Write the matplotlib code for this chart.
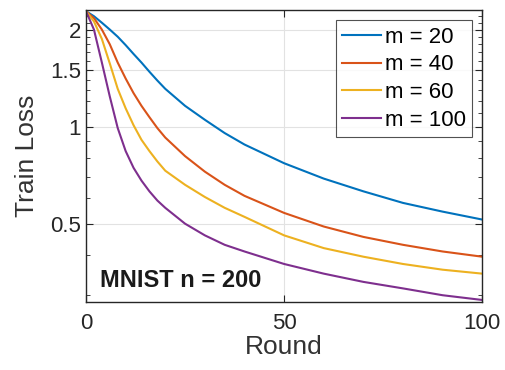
import numpy as np
import matplotlib
matplotlib.use('Agg')
import matplotlib.pyplot as plt
from matplotlib.ticker import FixedLocator, NullFormatter

plt.rcParams['font.family'] = ['Liberation Sans', 'DejaVu Sans']

# values (log-scale y)
rounds = [0, 2, 4, 6, 8, 10, 12, 14, 16, 18, 20, 25, 30, 35, 40, 50, 60, 70, 80, 90, 100]
loss_m20 = [2.28, 2.2, 2.1, 2.0, 1.9, 1.79, 1.68, 1.58, 1.48, 1.39, 1.31, 1.16, 1.05, 0.955, 0.88,
            0.77, 0.69, 0.63, 0.58, 0.545, 0.515]
loss_m40 = [2.28, 2.17, 2.0, 1.80, 1.58, 1.41, 1.27, 1.16, 1.07, 0.99, 0.925, 0.81, 0.725, 0.66, 0.61,
            0.54, 0.49, 0.455, 0.43, 0.41, 0.395]
loss_m60 = [2.28, 2.12, 1.87, 1.57, 1.31, 1.14, 1.01, 0.91, 0.84, 0.78, 0.73, 0.66, 0.605, 0.56, 0.525,
            0.46, 0.42, 0.395, 0.375, 0.36, 0.35]
loss_m100 = [2.28, 2.0, 1.58, 1.24, 0.99, 0.84, 0.745, 0.68, 0.63, 0.59, 0.56, 0.50, 0.46, 0.43, 0.41,
             0.375, 0.35, 0.33, 0.315, 0.30, 0.29]
labels = ['m = 20', 'm = 40', 'm = 60', 'm = 100']
colors = ['#0072BD', '#D95319', '#EDB120', '#7E2F8E']

xticks = [0, 50, 100]
yticks = [0.5, 1, 1.5, 2]
ytick_labels = ['0.5', '1', '1.5', '2']
yminor = [0.3, 0.4, 0.6, 0.7, 0.8, 0.9, 1.1, 1.2, 1.3, 1.4, 1.6, 1.7, 1.8, 1.9, 2.1, 2.2]

fig = plt.figure(figsize=(5.06, 3.70), dpi=100)
ax = fig.add_axes([0.170, 0.184, 0.783, 0.789])

for y, lab, c in zip([loss_m20, loss_m40, loss_m60, loss_m100], labels, colors):
    ax.plot(rounds, y, color=c, lw=1.5, label=lab)

ax.set_yscale('log')
ax.set_xlim(0, 100)
ax.set_ylim(0.286, 2.3)
ax.set_xticks(xticks)
ax.set_yticks(yticks)
ax.set_yticklabels(ytick_labels)
ax.yaxis.set_minor_locator(FixedLocator(yminor))
ax.yaxis.set_minor_formatter(NullFormatter())

ax.grid(True, which='major', color='#e2e2e2', lw=0.8)
ax.set_axisbelow(True)
for s in ax.spines.values():
    s.set_color('#262626')
    s.set_linewidth(1.0)
ax.tick_params(which='both', direction='in', top=True, right=True,
               colors='#262626', labelsize=16)
ax.tick_params(which='major', length=5)
ax.tick_params(which='minor', length=3)
ax.tick_params(axis='x', pad=8)

ax.set_xlabel('Round', fontsize=19, color='#333333', labelpad=1)
ax.set_ylabel('Train Loss', fontsize=19, color='#333333', labelpad=8)

ax.text(0.035, 0.075, 'MNIST n = 200', transform=ax.transAxes, fontsize=17,
        fontweight='bold', color='#1a1a1a', va='center', ha='left')

leg = ax.legend(loc='upper right', fontsize=16, frameon=True, fancybox=False,
                edgecolor='#262626', handlelength=1.75, handletextpad=0.15,
                borderpad=0.3, labelspacing=0.3, borderaxespad=0.45)
leg.get_frame().set_linewidth(0.8)

fig.savefig('out.png', dpi=100)
